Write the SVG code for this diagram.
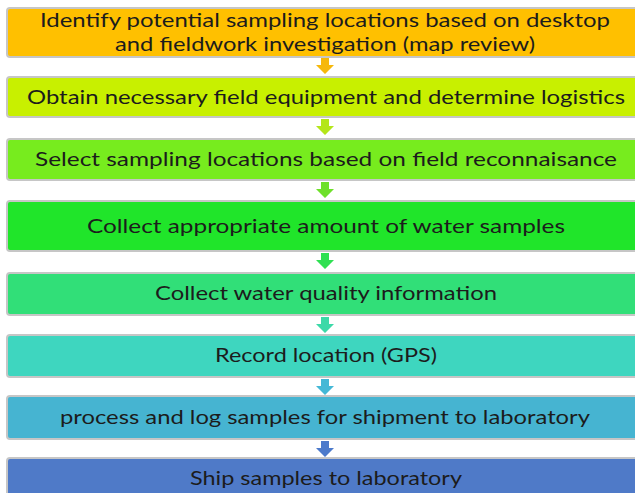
<svg xmlns="http://www.w3.org/2000/svg" width="635" height="493" viewBox="0 0 635 493">
  <style>
    .box { stroke: #c6c6c6; stroke-width: 2; }
    .lbl { font-family: Lato, "Liberation Sans", sans-serif; font-size: 20px; fill: #1c1c1c; text-anchor: middle; }
  </style>
  <rect width="635" height="493" fill="#ffffff"/>
  <g id="connectors">
    <path d="M321,58 h8 v7 h5 l-9,9 l-9,-9 h5 z" fill="#f6b80a"/>
    <path d="M321,119 h8 v7 h5 l-9,9 l-9,-9 h5 z" fill="#b4e61a"/>
    <path d="M321,182 h8 v7 h5 l-9,9 l-9,-9 h5 z" fill="#6ee02a"/>
    <path d="M321,253 h8 v7 h5 l-9,9 l-9,-9 h5 z" fill="#2fe052"/>
    <path d="M321,317 h8 v7 h5 l-9,9 l-9,-9 h5 z" fill="#3cd9a8"/>
    <path d="M321,379 h8 v7 h5 l-9,9 l-9,-9 h5 z" fill="#44b8d6"/>
    <path d="M321,441 h8 v7 h5 l-9,9 l-9,-9 h5 z" fill="#4c7acb"/>
  </g>
  <g id="n1">
    <rect class="box" x="7" y="8" width="640" height="49" rx="3" fill="#ffc000"/>
    <text class="lbl" x="325" y="27" textLength="570" lengthAdjust="spacingAndGlyphs">Identify potential sampling locations based on desktop</text>
    <text class="lbl" x="325" y="51" textLength="420" lengthAdjust="spacingAndGlyphs">and fieldwork investigation (map review)</text>
  </g>
  <g id="n2">
    <rect class="box" x="7" y="77" width="640" height="40" rx="3" fill="#c8f000"/>
    <text class="lbl" x="326" y="104" textLength="598" lengthAdjust="spacingAndGlyphs">Obtain necessary field equipment and determine logistics</text>
  </g>
  <g id="n3">
    <rect class="box" x="7" y="139" width="640" height="41" rx="3" fill="#77ec1e"/>
    <text class="lbl" x="326" y="166" textLength="582" lengthAdjust="spacingAndGlyphs">Select sampling locations based on field reconnaisance</text>
  </g>
  <g id="n4">
    <rect class="box" x="7" y="201" width="640" height="50" rx="3" fill="#20e52a"/>
    <text class="lbl" x="326" y="233" textLength="478" lengthAdjust="spacingAndGlyphs">Collect appropriate amount of water samples</text>
  </g>
  <g id="n5">
    <rect class="box" x="7" y="273" width="640" height="42" rx="3" fill="#31df78"/>
    <text class="lbl" x="326" y="300" textLength="342" lengthAdjust="spacingAndGlyphs">Collect water quality information</text>
  </g>
  <g id="n6">
    <rect class="box" x="7" y="335" width="640" height="42" rx="3" fill="#3ed6bf"/>
    <text class="lbl" x="326" y="362" textLength="222" lengthAdjust="spacingAndGlyphs">Record location (GPS)</text>
  </g>
  <g id="n7">
    <rect class="box" x="7" y="396" width="640" height="43" rx="3" fill="#46b4d1"/>
    <text class="lbl" x="325" y="424" textLength="530" lengthAdjust="spacingAndGlyphs">process and log samples for shipment to laboratory</text>
  </g>
  <g id="n8">
    <rect class="box" x="7" y="458" width="640" height="50" rx="3" fill="#4f7ac8"/>
    <text class="lbl" x="326" y="485" textLength="272" lengthAdjust="spacingAndGlyphs">Ship samples to laboratory</text>
  </g>
</svg>
